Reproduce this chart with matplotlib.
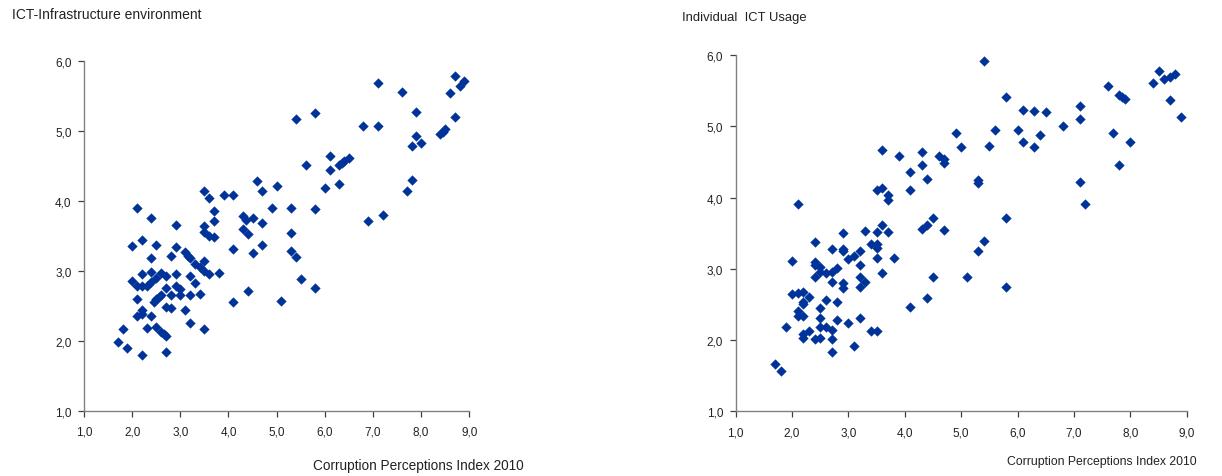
import matplotlib
matplotlib.use("Agg")
import matplotlib.pyplot as plt
from matplotlib.ticker import FixedLocator, FuncFormatter

plt.rcParams['font.family'] = ['Liberation Sans', 'DejaVu Sans']

# Corruption Perceptions Index 2010 vs. ICT infrastructure environment
infra_cpi = [
    2.1, 2.4, 2.9, 3.5, 3.6, 3.9, 4.1, 4.6, 4.7, 5.0, 3.7, 3.7, 3.5, 4.3, 4.37, 4.5, 4.3, 4.7, 4.9,
    2.0, 2.2, 2.5, 2.4, 2.9, 2.8, 3.1, 3.16, 3.2, 3.5, 3.6, 3.7, 4.1, 4.4, 4.7, 4.5, 3.3, 3.4,
    3.5, 3.5, 3.6, 3.8, 2.2, 2.4, 2.6, 2.7, 2.5, 2.0, 2.1, 2.2, 2.3, 2.4, 2.9, 2.9, 2.7, 3.0,
    3.0, 2.8, 3.2, 3.3, 3.2, 3.4, 2.6, 2.56, 2.5, 2.45, 2.1, 2.2, 2.2, 2.1, 2.4, 2.7, 2.8, 3.1,
    3.2, 3.5, 4.1, 4.4, 1.8, 2.3, 2.5, 2.6, 2.66, 2.7, 1.7, 1.9, 2.2, 2.7,
    5.4, 5.8, 7.1, 7.6, 8.7, 8.8, 8.9, 8.6, 7.9, 8.7, 6.8, 7.1, 7.9, 8.0, 7.8, 8.4, 8.45, 8.5,
    6.1, 5.6, 6.1, 6.3, 6.4, 6.5, 6.35, 6.0, 6.3, 7.8, 7.7, 5.3, 5.8, 6.9, 7.2, 5.3, 5.3, 5.4,
    5.5, 5.8, 5.1,
]
infra_score = [
    3.90, 3.76, 3.65, 4.15, 4.04, 4.09, 4.08, 4.29, 4.15, 4.21, 3.85, 3.71, 3.64, 3.79, 3.73, 3.75, 3.60, 3.68, 3.90,
    3.36, 3.44, 3.37, 3.18, 3.34, 3.22, 3.27, 3.22, 3.19, 3.56, 3.50, 3.49, 3.31, 3.53, 3.37, 3.25, 3.10, 3.06,
    3.14, 3.00, 2.95, 2.97, 2.96, 2.99, 2.97, 2.93, 2.90, 2.85, 2.78, 2.78, 2.78, 2.84, 2.95, 2.79, 2.75, 2.74,
    2.66, 2.66, 2.93, 2.83, 2.66, 2.67, 2.66, 2.62, 2.60, 2.56, 2.60, 2.44, 2.38, 2.35, 2.35, 2.49, 2.47, 2.44,
    2.26, 2.17, 2.56, 2.71, 2.17, 2.18, 2.20, 2.13, 2.10, 2.07, 1.98, 1.89, 1.80, 1.84,
    5.17, 5.26, 5.69, 5.56, 5.79, 5.65, 5.71, 5.54, 5.27, 5.20, 5.08, 5.07, 4.93, 4.83, 4.78, 4.96, 4.99, 5.03,
    4.65, 4.52, 4.44, 4.51, 4.57, 4.62, 4.54, 4.18, 4.24, 4.30, 4.15, 3.90, 3.89, 3.71, 3.80, 3.54, 3.28, 3.20,
    2.89, 2.75, 2.57,
]

# Corruption Perceptions Index 2010 vs. individual ICT usage
usage_cpi = [
    2.1, 3.6, 3.9, 4.3, 4.3, 4.1, 4.4, 3.5, 3.6, 3.7, 3.7, 4.1, 2.9, 3.3, 3.5, 3.6, 3.7, 4.3, 4.4,
    2.4, 2.7, 2.9, 2.9, 3.1, 3.0, 3.2, 3.4, 3.5, 3.5, 3.2, 3.5, 3.8, 3.6, 2.0, 2.4, 2.4, 2.5,
    2.5, 2.6, 2.7, 2.8, 2.4, 2.7, 2.9, 2.9, 3.2, 3.3, 3.2, 2.0, 2.1, 2.2, 2.2, 2.2, 2.3, 2.6,
    2.8, 2.5, 2.1, 2.1, 2.2, 2.5, 2.8, 3.2, 3.0, 2.5, 2.6, 2.7, 1.9, 2.2, 2.3, 2.2, 2.4, 2.5,
    2.7, 3.4, 3.5, 3.1, 2.7, 1.7, 1.8, 4.1, 4.4,
    5.4, 5.8, 6.1, 6.3, 6.5, 6.0, 6.1, 6.3, 6.4, 5.6, 5.5, 4.9, 5.0, 4.6, 4.7, 4.7, 5.3, 5.3,
    6.8, 7.1, 7.1, 7.6, 7.8, 7.86, 7.9, 8.4, 8.5, 8.6, 8.7, 8.8, 8.7, 8.9, 7.7, 8.0, 7.8, 7.1,
    7.2, 5.8, 4.5, 4.7, 5.4, 5.3, 4.5, 5.1, 5.8,
]
usage_score = [
    3.91, 4.67, 4.58, 4.64, 4.46, 4.36, 4.26, 4.11, 4.14, 4.03, 3.97, 4.11, 3.50, 3.53, 3.52, 3.61, 3.51, 3.56, 3.61,
    3.37, 3.28, 3.28, 3.25, 3.18, 3.14, 3.25, 3.35, 3.35, 3.29, 3.06, 3.15, 3.15, 2.94, 3.11, 3.10, 3.06, 3.02,
    2.95, 2.94, 2.95, 3.01, 2.89, 2.82, 2.80, 2.73, 2.88, 2.82, 2.75, 2.65, 2.66, 2.68, 2.54, 2.51, 2.61, 2.56,
    2.54, 2.45, 2.41, 2.34, 2.34, 2.31, 2.28, 2.31, 2.24, 2.19, 2.19, 2.14, 2.18, 2.09, 2.12, 2.03, 2.01, 2.03,
    2.01, 2.13, 2.12, 1.92, 1.83, 1.66, 1.56, 2.46, 2.59,
    5.91, 5.41, 5.23, 5.22, 5.20, 4.95, 4.78, 4.71, 4.88, 4.95, 4.73, 4.90, 4.71, 4.58, 4.54, 4.48, 4.24, 4.20,
    5.01, 5.28, 5.10, 5.56, 5.44, 5.41, 5.38, 5.61, 5.77, 5.66, 5.69, 5.73, 5.37, 5.13, 4.91, 4.78, 4.45, 4.22,
    3.91, 3.71, 3.71, 3.55, 3.39, 3.25, 2.88, 2.89, 2.75,
]

x_ticks = [1, 2, 3, 4, 5, 6, 7, 8, 9]
y_ticks = [1, 2, 3, 4, 5, 6]
panel_titles = ["ICT-Infrastructure environment", "Individual  ICT Usage"]
x_title = "Corruption Perceptions Index 2010"

W, H = 1222, 477
fig = plt.figure(figsize=(W / 100, H / 100), dpi=100)
fig.patch.set_facecolor("white")

MARK = "#003399"
comma = FuncFormatter(lambda v, _: f"{v:.1f}".replace(".", ","))


def px_axes(x0, y0, x1, y1):
    return fig.add_axes([x0 / W, 1 - y1 / H, (x1 - x0) / W, (y1 - y0) / H])


def style(ax):
    ax.set_xlim(1, 9)
    ax.set_ylim(1, 6)
    ax.xaxis.set_major_locator(FixedLocator(x_ticks))
    ax.yaxis.set_major_locator(FixedLocator(y_ticks))
    ax.xaxis.set_major_formatter(comma)
    ax.yaxis.set_major_formatter(comma)
    for s in ("top", "right"):
        ax.spines[s].set_visible(False)
    for s in ("left", "bottom"):
        ax.spines[s].set_color("#808080")
        ax.spines[s].set_linewidth(1.0)
    ax.tick_params(direction="out", length=4, width=0.9, color="#404040",
                   labelsize=8.5, labelcolor="#222222")
    ax.tick_params(axis="x", pad=7)
    ax.tick_params(axis="y", pad=5)
    ax.set_facecolor("white")


ax1 = px_axes(84, 62.2, 469.3, 411.7)
style(ax1)
ax1.scatter(infra_cpi, infra_score, marker="D", s=24, color=MARK,
            edgecolors=MARK, linewidths=0.3, clip_on=False, zorder=3)

ax2 = px_axes(735.7, 56, 1186.7, 412.3)
style(ax2)
ax2.scatter(usage_cpi, usage_score, marker="D", s=24, color=MARK,
            edgecolors=MARK, linewidths=0.3, clip_on=False, zorder=3)

fig.text(12 / W, 1 - 15 / H, panel_titles[0], fontsize=10, color="#222222",
         ha="left", va="center")
fig.text(682 / W, 1 - 18 / H, panel_titles[1], fontsize=9.4, color="#222222",
         ha="left", va="center")
fig.text(313 / W, 1 - 466 / H, x_title, fontsize=9.8, color="#222222",
         ha="left", va="center")
fig.text(1007 / W, 1 - 462 / H, x_title, fontsize=8.8, color="#222222",
         ha="left", va="center")

fig.savefig("out.png", dpi=100, facecolor="white")
